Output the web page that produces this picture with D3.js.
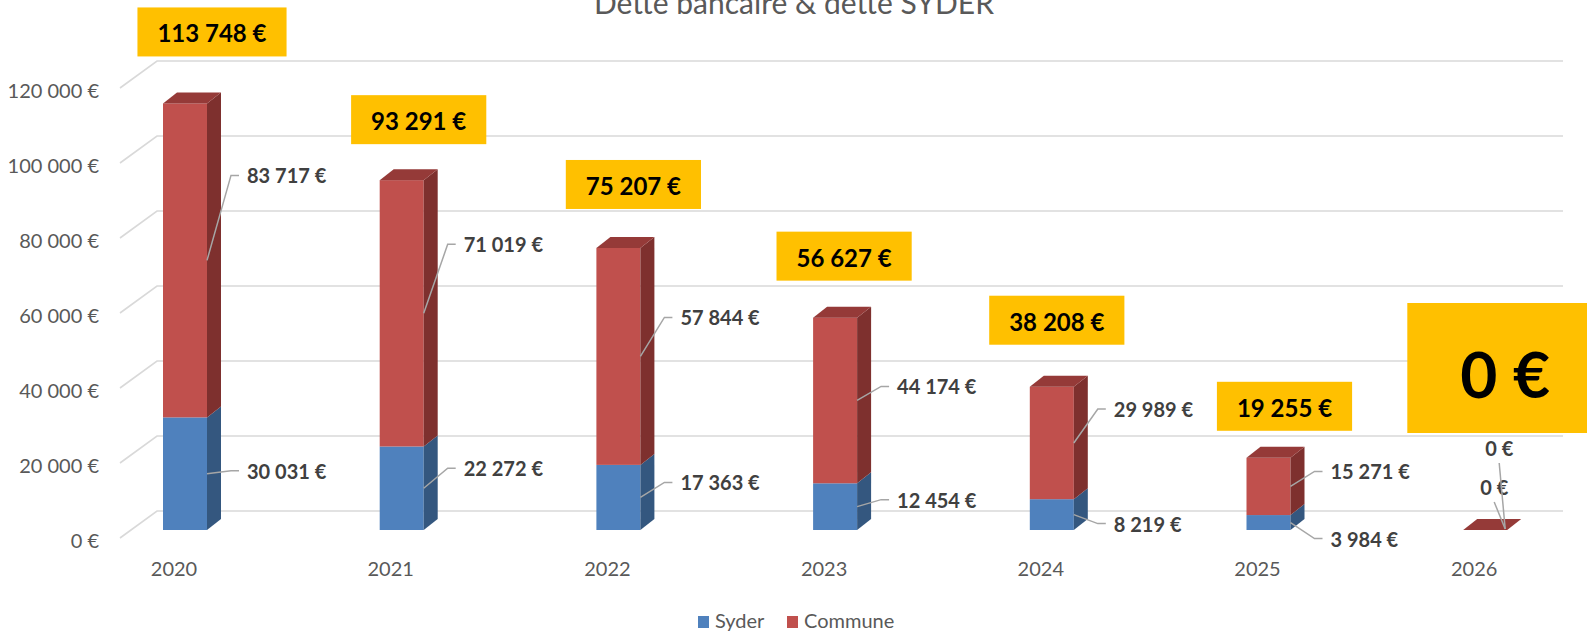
<!DOCTYPE html>
<html>
<head>
<meta charset="utf-8">
<script src="https://cdn.jsdelivr.net/npm/d3@7"></script>
<style>
  body { margin: 0; background: #fff; }
  svg { display: block; font-family: Lato, "Open Sans", sans-serif; }
</style>
</head>
<body>
<svg id="chart" width="1587" height="631"></svg>
<script>
// data
var years = ["2020", "2021", "2022", "2023", "2024", "2025", "2026"];
var syder = [30031, 22272, 17363, 12454, 8219, 3984, 0];
var commune = [83717, 71019, 57844, 44174, 29989, 15271, 0];
var totals = [113748, 93291, 75207, 56627, 38208, 19255, 0];
var yTicks = [0, 20000, 40000, 60000, 80000, 100000, 120000];
var seriesNames = ["Syder", "Commune"];

// label nudges (layout only), relative to segment middle
var communeNudge = [[0, -85], [0, -69], [0, -39], [0, -14], [0, -34], [0, -15], [-62, -82]];
var syderNudge = [[0, -3], [0, -20], [0, -15], [0, -7], [0, 9], [0, 16], [-67, -43]];
// total boxes: dx from bar centre, gap above bar top
var boxNudge = [[27, 47], [17, 36], [15, 39], [9, 37], [5, 42], [16, 27], [20, 97]];

var fmt = function (v) {
    return d3.format(",")(v).replace(/,/g, " ") + " €";
};

var svg = d3.select("#chart");

var barW = 44, dX = 14, dY = -11;
var step = 216.7;
var pIn = 1 - barW / step, pOut = pIn / 2;
var r0 = 163 - step * pOut;
var x = d3.scaleBand().domain(years)
    .range([r0, r0 + step * (years.length - pIn + 2 * pOut)])
    .paddingInner(pIn).paddingOuter(pOut);

var y = d3.scaleLinear().domain([0, 120000]).range([530, 80]);

var gridL = 120, wallL = 157, wallR = 1563;
var backOff = -19, frontOff = 8;

// gridlines on the back wall + side wall diagonals
var grid = svg.append("g").attr("class", "grid");
yTicks.forEach(function (t) {
    grid.append("path")
        .attr("d", "M" + gridL + "," + (y(t) + frontOff) +
            "L" + wallL + "," + (y(t) + backOff) +
            "L" + wallR + "," + (y(t) + backOff))
        .attr("fill", "none")
        .attr("stroke", "#d9d9d9")
        .attr("stroke-width", 1.6);
});

// y axis labels
svg.append("g").selectAll("text").data(yTicks).join("text")
    .attr("x", 99)
    .attr("y", function (d) { return y(d) + frontOff + 2; })
    .attr("text-anchor", "end")
    .attr("dominant-baseline", "central")
    .attr("font-size", 20)
    .attr("fill", "#595959")
    .text(fmt);

// x axis labels
svg.append("g").selectAll("text").data(years).join("text")
    .attr("x", function (d) { return x(d) + barW / 2 - 11; })
    .attr("y", 568)
    .attr("text-anchor", "middle")
    .attr("dominant-baseline", "central")
    .attr("font-size", 20)
    .attr("fill", "#595959")
    .text(function (d) { return d; });

// bars
var colors = {
    Syder: { front: "#4f81bd", side: "#34577f", top: "#3f6896" },
    Commune: { front: "#c0504d", side: "#7e302e", top: "#953a38" }
};

var stack = years.map(function (yr, i) {
    return [
        { name: "Syder", year: yr, v0: 0, v1: syder[i], value: syder[i] },
        { name: "Commune", year: yr, v0: syder[i], v1: syder[i] + commune[i], value: commune[i] }
    ];
});

var bars = svg.append("g").attr("class", "bars");
stack.forEach(function (segs, i) {
    var x0 = x(segs[0].year), x1 = x0 + barW;
    segs.forEach(function (s, k) {
        var c = colors[s.name];
        var yb = y(s.v0), yt = y(s.v1);
        if (s.value > 0) {
            bars.append("rect")
                .attr("x", x0).attr("y", yt)
                .attr("width", barW).attr("height", yb - yt)
                .attr("fill", c.front);
            bars.append("path")
                .attr("d", "M" + x1 + "," + yb + "L" + (x1 + dX) + "," + (yb + dY) +
                    "L" + (x1 + dX) + "," + (yt + dY) + "L" + x1 + "," + yt + "Z")
                .attr("fill", c.side);
        }
        if (k === segs.length - 1) {
            bars.append("path")
                .attr("d", "M" + x0 + "," + yt + "L" + (x0 + dX) + "," + (yt + dY) +
                    "L" + (x1 + dX) + "," + (yt + dY) + "L" + x1 + "," + yt + "Z")
                .attr("fill", c.top);
        }
    });
});

// data labels with leader lines
var labels = svg.append("g").attr("class", "labels");
stack.forEach(function (segs, i) {
    var x1 = x(segs[0].year) + barW;
    segs.forEach(function (s) {
        var nud = s.name === "Commune" ? communeNudge[i] : syderNudge[i];
        var mid = (y(s.v0) + y(s.v1)) / 2;
        var lx = x1 + 40 + nud[0], ly = mid + nud[1];
        var d;
        if (s.value > 0) {
            d = "M" + x1 + "," + mid + "L" + (x1 + 24 + nud[0]) + "," + ly + "L" + (x1 + 32 + nud[0]) + "," + ly;
        } else {
            d = "M" + (x1 - 2) + "," + (y(0) - 1) + "L" + (lx + 14) + "," + (ly + 15);
        }
        labels.append("path")
            .attr("d", d)
            .attr("fill", "none")
            .attr("stroke", "#a6a6a6")
            .attr("stroke-width", 1.5);
        labels.append("text")
            .attr("x", lx).attr("y", ly)
            .attr("dominant-baseline", "central")
            .attr("font-size", 20)
            .attr("font-weight", "bold")
            .attr("fill", "#404040")
            .text(fmt(s.value));
    });
});

// yellow total boxes
var boxes = svg.append("g").attr("class", "totals");
totals.forEach(function (t, i) {
    var big = t === 0;
    var cx = x(years[i]) + barW / 2 + boxNudge[i][0];
    var bottom = y(t) - boxNudge[i][1];
    var h = big ? 130 : 49;
    var g = boxes.append("g");
    var rect = g.append("rect").attr("fill", "#ffc000");
    var txt = g.append("text")
        .attr("x", cx).attr("y", bottom - h / 2 + (big ? 5 : 1))
        .attr("text-anchor", "middle")
        .attr("dominant-baseline", "central")
        .attr("font-size", big ? 64 : 24)
        .attr("font-weight", "bold")
        .attr("fill", "#000")
        .text(fmt(t));
    var w = txt.node().getComputedTextLength() + (big ? 106 : 40);
    rect.attr("x", cx - w / 2).attr("y", bottom - h)
        .attr("width", w).attr("height", h);
});

// title (cut at the top edge, as in the source)
svg.append("text")
    .attr("x", 794).attr("y", 14)
    .attr("text-anchor", "middle")
    .attr("font-size", 30)
    .attr("fill", "#595959")
    .text("Dette bancaire & dette SYDER");

// legend
var legend = svg.append("g").attr("class", "legend");
var legX = [698, 787];
seriesNames.forEach(function (n, i) {
    legend.append("rect")
        .attr("x", legX[i]).attr("y", 616)
        .attr("width", 11).attr("height", 12)
        .attr("fill", colors[n].front);
    legend.append("text")
        .attr("x", legX[i] + 17).attr("y", 620)
        .attr("dominant-baseline", "central")
        .attr("font-size", 20)
        .attr("fill", "#595959")
        .text(n);
});
</script>
</body>
</html>
